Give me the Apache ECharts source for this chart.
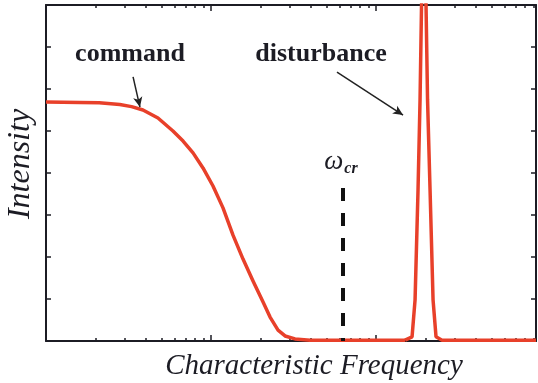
<!DOCTYPE html>
<html><head><meta charset="utf-8">
<script src="https://cdn.jsdelivr.net/npm/echarts@6/dist/echarts.min.js"></script>
<style>html,body{margin:0;padding:0;background:#fff}#c{width:538px;height:383px}</style>
</head><body><div id="c"></div>
<script>
// Data (frequency on log axis, intensity)
const commandFreq = [1, 1.6, 2.1, 2.8, 3.3, 3.87, 4.77, 5.88, 6.77, 7.78, 8.94, 10.28, 11.82, 13.59, 15.63, 17.97, 20.67, 22.79, 25.48, 28.09, 32.29, 39.8, 60, 100, 150];
const commandVal  = [5.69, 5.68, 5.67, 5.63, 5.58, 5.50, 5.31, 5.00, 4.76, 4.48, 4.12, 3.69, 3.17, 2.52, 1.95, 1.43, 0.93, 0.57, 0.26, 0.12, 0.05, 0.02, 0.02, 0.02, 0.02];
const disturbFreq = [150, 165.3, 172.4, 179.7, 184.8, 188.7, 194.9, 200.9, 205.2, 212.5, 221.6, 231.0, 251.2, 932];
const disturbVal  = [0.02, 0.10, 0.98, 3.6, 5.74, 8.0, 9.0, 8.0, 5.74, 3.6, 0.98, 0.10, 0.02, 0.02];
const omegaCr = 63.1;
const omegaCrTop = 3.64;
const xMin = 1, xMax = 932;
const yMin = 0, yMax = 8, yInterval = 1;
const minorTicks = [2,3,4,5,6,7,8,9,20,30,40,50,60,70,80,90,200,300,400,500,600,700,800,900];
const majorTicks = [10, 100];
const commandArrow = [[3.37, 6.29], [3.71, 5.57]];
const disturbArrow = [[58.0, 6.40], [145.8, 5.38]];
const labels = {x: 'Characteristic Frequency', y: 'Intensity', command: 'command', disturbance: 'disturbance'};

const zip = (a, b) => a.map((v, i) => [v, b[i]]);
const red = '#e8402a', ink = '#1c1c24';
const serif = '"Liberation Serif", "DejaVu Serif", serif';

function xAx(pos, ticks, len, withLine, withName) {
  return {
    type: 'log', logBase: 10, min: xMin, max: xMax, position: pos,
    axisLine: {show: withLine, lineStyle: {color: ink, width: 2}},
    axisTick: {show: true, inside: true, length: len, customValues: ticks, lineStyle: {color: ink, width: 1.5}},
    axisLabel: {show: false}, splitLine: {show: false}, minorTick: {show: false},
    name: withName ? labels.x : '', nameLocation: 'middle', nameGap: 11,
    nameTextStyle: {fontFamily: serif, fontStyle: 'italic', fontSize: 29, color: ink, verticalAlign: 'top', padding: [0, 0, 0, 46]}
  };
}
function yAx(pos, withName) {
  return {
    type: 'value', min: yMin, max: yMax, interval: yInterval, position: pos,
    axisLine: {show: true, lineStyle: {color: ink, width: 2}},
    axisTick: {show: true, inside: true, length: 5, lineStyle: {color: ink, width: 1.5}},
    axisLabel: {show: false}, splitLine: {show: false},
    name: withName ? labels.y : '', nameLocation: 'middle', nameGap: 9,
    nameTextStyle: {fontFamily: serif, fontStyle: 'italic', fontSize: 32, color: ink, padding: [0, 0, 0, 18]}
  };
}

const chart = echarts.init(document.getElementById('c'), null, {renderer: 'canvas'});
chart.setOption({
  animation: false,
  backgroundColor: '#fff',
  grid: {left: 46, right: 2, top: 5, bottom: 42, containLabel: false, outerBoundsMode: 'none'},
  xAxis: [xAx('bottom', minorTicks, 3, true, true), xAx('bottom', majorTicks, 6, false, false),
          xAx('top', minorTicks, 3, true, false), xAx('top', majorTicks, 6, false, false)],
  yAxis: [yAx('left', true), yAx('right', false)],
  series: [
    {type: 'line', xAxisIndex: 0, yAxisIndex: 0, data: zip(commandFreq, commandVal), smooth: false,
     showSymbol: false, lineStyle: {color: red, width: 3.5, join: 'round'}, clip: true,
     markLine: {silent: true, animation: false, symbol: ['none', 'arrow'], symbolSize: [7, 10],
       lineStyle: {color: '#222', width: 1.5, type: 'solid'}, label: {show: false},
       data: [[{coord: commandArrow[0]}, {coord: commandArrow[1]}],
              [{coord: disturbArrow[0]}, {coord: disturbArrow[1]}]]}},
    {type: 'line', xAxisIndex: 0, yAxisIndex: 0, data: zip(disturbFreq, disturbVal), smooth: false,
     showSymbol: false, lineStyle: {color: red, width: 3.5}, clip: true,
     markLine: {silent: true, animation: false, symbol: ['none', 'none'],
       lineStyle: {color: '#111', width: 4, type: [13, 12]}, label: {show: false},
       data: [[{coord: [omegaCr, omegaCrTop]}, {coord: [omegaCr, yMin]}]]}}
  ],
  graphic: [
    {type: 'text', x: 130, y: 54, style: {text: labels.command, font: 'bold 26px ' + serif, fill: ink, align: 'center', verticalAlign: 'middle'}},
    {type: 'text', x: 321, y: 54, style: {text: labels.disturbance, font: 'bold 26px ' + serif, fill: ink, align: 'center', verticalAlign: 'middle'}},
    {type: 'text', x: 341, y: 162, style: {
      text: '{w|ω}{s|cr}', align: 'center', verticalAlign: 'middle',
      rich: {w: {font: 'italic 27px ' + serif, fill: ink}, s: {font: 'italic bold 16px ' + serif, fill: ink, padding: [14, 0, 0, 1]}}}}
  ]
});
</script></body></html>
